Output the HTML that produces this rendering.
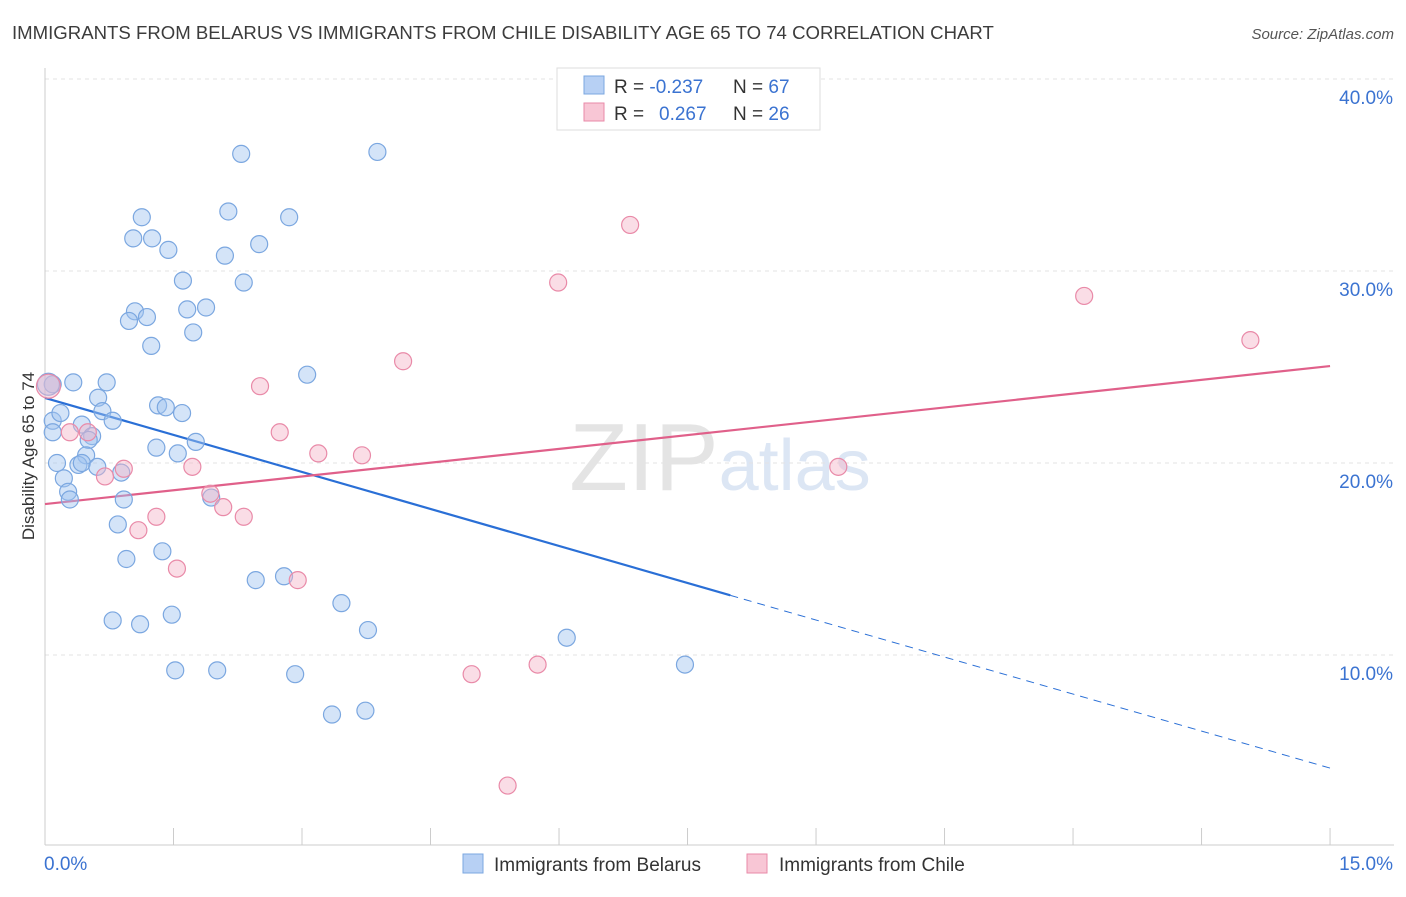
<!DOCTYPE html>
<html><head><meta charset="utf-8">
<style>
body{margin:0;background:#fff;font-family:"Liberation Sans",sans-serif;}
svg text{font-family:"Liberation Sans",sans-serif;}
</style></head>
<body>
<svg id="chart" width="1406" height="892" viewBox="0 0 1406 892" xmlns="http://www.w3.org/2000/svg">
<text x="12" y="39" font-size="18.6" fill="#3c3c3c">IMMIGRANTS FROM BELARUS VS IMMIGRANTS FROM CHILE DISABILITY AGE 65 TO 74 CORRELATION CHART</text>
<text x="1394" y="39" font-size="15" fill="#555" text-anchor="end" font-style="italic">Source: ZipAtlas.com</text>
<text x="720" y="490" font-size="96" fill="#e4e4e4" text-anchor="middle" font-family="Liberation Serif"><tspan>ZIP</tspan><tspan fill="#dce6f4" font-family="Liberation Sans" font-size="72">atlas</tspan></text>
<g id="grid"></g>
<g id="axes"></g>
<g id="trend"></g>
<g id="points"></g>
<text transform="translate(34,456) rotate(-90)" font-size="17" fill="#333" text-anchor="middle">Disability Age 65 to 74</text>
<g>
<rect x="557" y="68" width="263" height="62" fill="#fff" stroke="#ddd"/>
<rect x="584" y="76" width="20" height="18" fill="#b7d0f4" stroke="#7ba7e0"/>
<rect x="584" y="103" width="20" height="18" fill="#f8c6d5" stroke="#e98aa8"/>
<text x="614" y="93" font-size="19" fill="#333">R = <tspan fill="#3b73d1">-0.237</tspan><tspan x="733">N = </tspan><tspan fill="#3b73d1">67</tspan></text>
<text x="614" y="120" font-size="19" fill="#333">R = <tspan fill="#3b73d1" x="659">0.267</tspan><tspan x="733">N = </tspan><tspan fill="#3b73d1">26</tspan></text>
</g>
<g>
<rect x="463" y="854" width="20" height="19" fill="#b7d0f4" stroke="#7ba7e0"/>
<text x="494" y="871" font-size="19" fill="#333">Immigrants from Belarus</text>
<rect x="747" y="854" width="20" height="19" fill="#f8c6d5" stroke="#e98aa8"/>
<text x="779" y="871" font-size="19" fill="#333">Immigrants from Chile</text>
</g>
</svg>
<script>
const belarusX=[2.29,3.88,2.14,2.85,1.13,1.03,1.25,1.44,2.10,2.50,1.61,2.32,1.05,0.98,1.19,1.66,1.88,1.73,1.24,3.06,0.72,0.33,0.09,0.62,0.67,0.79,1.32,1.41,1.60,0.09,0.09,0.43,0.55,0.51,1.76,1.30,1.55,0.48,0.14,0.39,0.43,0.61,0.89,0.22,0.27,0.29,0.92,1.94,0.85,0.95,1.37,2.46,2.79,3.46,0.79,1.11,1.48,3.77,6.09,1.52,2.01,2.92,7.47,3.35,3.74,0.04,0.18];
const belarusY=[36.1,36.2,33.1,32.8,32.8,31.7,31.7,31.1,30.8,31.4,29.5,29.4,27.9,27.4,27.6,28.0,28.1,26.8,26.1,24.6,24.2,24.2,24.1,23.4,22.7,22.2,23.0,22.9,22.6,22.2,21.6,22.0,21.4,21.2,21.1,20.8,20.5,20.4,20.0,19.9,20.0,19.8,19.5,19.2,18.5,18.1,18.1,18.2,16.8,15.0,15.4,13.9,14.1,12.7,11.8,11.6,12.1,11.3,10.9,9.2,9.2,9.0,9.5,6.9,7.1,24.1,22.6];
const chileX=[6.83,5.99,12.13,14.07,4.18,2.51,2.74,3.19,3.70,0.04,0.29,0.50,1.72,0.92,0.70,9.26,1.93,2.08,2.32,1.30,1.09,1.54,2.95,5.75,4.98,5.40];
const chileY=[32.4,29.4,28.7,26.4,25.3,24.0,21.6,20.5,20.4,24.0,21.6,21.6,19.8,19.7,19.3,19.8,18.4,17.7,17.2,17.2,16.5,14.5,13.9,9.5,9.0,3.2];
const yTicks=[10,20,30,40];
const yTickLabels=["10.0%","20.0%","30.0%","40.0%"];
const xTicks=[0,1.5,3,4.5,6,7.5,9,10.5,12,13.5,15];
const xEndLabels=["0.0%","15.0%"];
const belarusTrend=[23.39,4.11];
const belarusSolidEnd=8.0;
const chileTrend=[17.86,25.05];

const NS="http://www.w3.org/2000/svg";
const sx=v=>45+v*85.67;
const sy=v=>847-v*19.2;
function mk(tag,attrs,parent){const e=document.createElementNS(NS,tag);for(const k in attrs)e.setAttribute(k,attrs[k]);document.getElementById(parent).appendChild(e);return e;}
yTicks.forEach((t,i)=>{
  const l=mk('line',{x1:45,x2:1394,y1:sy(t),y2:sy(t),stroke:'#e3e3e3','stroke-dasharray':'4,4'},'grid');
  
  
  const tx=mk('text',{x:1393,y:sy(t)+25,'font-size':19,fill:'#3b73d1','text-anchor':'end'},'axes');
  tx.textContent=yTickLabels[i];
  
  
});
const topLine=mk('line',{x1:45,x2:1394,y1:79,y2:79,stroke:'#e3e3e3','stroke-dasharray':'4,4'},'grid');


const ax=mk('line',{x1:45,x2:1394,y1:845,y2:845,stroke:'#ccc'},'axes');


const ay=mk('line',{x1:45,x2:45,y1:68,y2:845,stroke:'#ccc'},'axes');


xTicks.forEach(t=>{
  const l=mk('line',{x1:sx(t),x2:sx(t),y1:828,y2:845,stroke:'#ccc'},'axes');
  
  
});
const xl0=mk('text',{x:44,y:870,'font-size':19,fill:'#3b73d1'},'axes');xl0.textContent=xEndLabels[0];


const xl1=mk('text',{x:1393,y:870,'font-size':19,fill:'#3b73d1','text-anchor':'end'},'axes');xl1.textContent=xEndLabels[1];



belarusX.forEach((x,i)=>{
  const c=mk('circle',{cx:sx(x),cy:sy(belarusY[i]),r:i===65?11:8.5,fill:'rgba(160,195,240,0.45)',stroke:'#7ba7e0','stroke-width':1.2},'points');
  
  
});
chileX.forEach((x,i)=>{
  const c=mk('circle',{cx:sx(x),cy:sy(chileY[i]),r:i===9?12:8.5,fill:'rgba(245,180,200,0.45)',stroke:'#e98aa8','stroke-width':1.2},'points');
  
  
});
const bAt=x=>belarusTrend[0]+(belarusTrend[1]-belarusTrend[0])*x/15;
const b1=mk('line',{x1:sx(0),y1:sy(bAt(0)),x2:sx(belarusSolidEnd),y2:sy(bAt(belarusSolidEnd)),stroke:'#2a6fd6','stroke-width':2.2},'trend');


const b2=mk('line',{x1:sx(belarusSolidEnd),y1:sy(bAt(belarusSolidEnd)),x2:sx(15),y2:sy(bAt(15)),stroke:'#2a6fd6','stroke-width':1,'stroke-dasharray':'8,6'},'trend');


const c1=mk('line',{x1:sx(0),y1:sy(chileTrend[0]),x2:sx(15),y2:sy(chileTrend[1]),stroke:'#e0608a','stroke-width':2.2},'trend');


</script>
</body></html>
